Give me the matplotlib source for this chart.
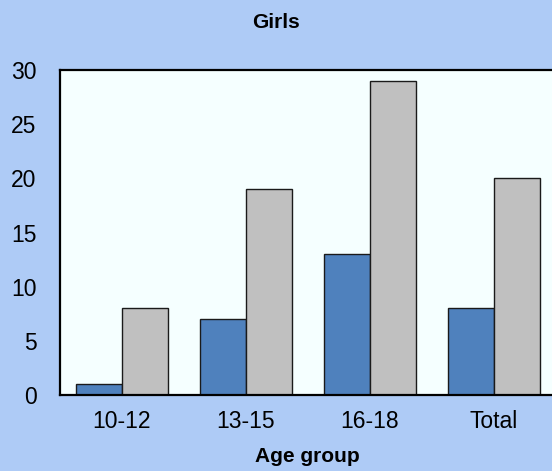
import matplotlib
matplotlib.use("Agg")
import matplotlib.pyplot as plt
import numpy as np

categories = ["10-12", "13-15", "16-18", "Total"]
series_a = [1, 7, 13, 8]
series_b = [8, 19, 29, 20]
y_ticks = [0, 5, 10, 15, 20, 25, 30]

plt.rcParams["font.family"] = ["Liberation Sans", "DejaVu Sans"]

fig = plt.figure(figsize=(5.52, 4.71), dpi=100)
fig.patch.set_facecolor("#AECBF6")

W, H = 552, 471
left, right, top, bottom = 60, 556, 70, 395
ax = fig.add_axes([left / W, 1 - bottom / H, (right - left) / W, (bottom - top) / H])
ax.set_facecolor("#F5FFFF")

x = np.arange(len(categories))
w = 0.37
ax.bar(x - w / 2, series_a, width=w, color="#4F81BD", edgecolor="#1a1a1a", linewidth=1.0, zorder=3)
ax.bar(x + w / 2, series_b, width=w, color="#C0C0C0", edgecolor="#1a1a1a", linewidth=1.0, zorder=3)

ax.set_xlim(-0.5, len(categories) - 0.5)
ax.set_ylim(0, 30)
ax.set_yticks(y_ticks)
ax.set_xticks(x)
ax.set_xticklabels(categories)
ax.tick_params(axis="both", length=0, labelsize=16.5)
ax.tick_params(axis="y", pad=17)
ax.tick_params(axis="x", pad=11)
for lbl in ax.get_yticklabels():
    lbl.set_verticalalignment("center_baseline")

for side in ["left", "bottom", "top"]:
    ax.spines[side].set_linewidth(1.6)
    ax.spines[side].set_color("black")
    ax.spines[side].set_zorder(4)
ax.spines["right"].set_visible(False)

fig.text(0.5, 1 - 23 / H, "Girls", ha="center", va="center", fontsize=15, fontweight="bold")
fig.text(307 / W, 1 - 456 / H, "Age group", ha="center", va="center", fontsize=15, fontweight="bold")

fig.savefig("out.png", dpi=100, facecolor=fig.get_facecolor())
